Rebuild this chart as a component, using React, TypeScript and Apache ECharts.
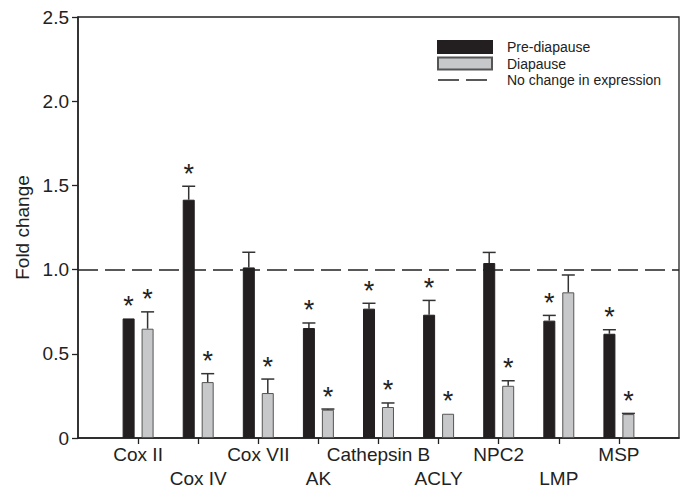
import React, { useEffect, useRef } from 'react';
import * as echarts from 'echarts';

// ---- data ----
const categories = ['Cox II', 'Cox IV', 'Cox VII', 'AK', 'Cathepsin B', 'ACLY', 'NPC2', 'LMP', 'MSP'];
const preDiapause = [0.71, 1.415, 1.013, 0.653, 0.768, 0.732, 1.039, 0.697, 0.619];
const preDiapauseSd = [0, 0.08, 0.09, 0.03, 0.032, 0.085, 0.063, 0.031, 0.024];
const preDiapauseSig = [1, 1, 0, 1, 1, 1, 0, 1, 1];
const diapause = [0.649, 0.332, 0.267, 0.168, 0.184, 0.144, 0.31, 0.865, 0.142];
const diapauseSd = [0.1, 0.05, 0.083, 0.004, 0.024, 0, 0.03, 0.103, 0.004];
const diapauseSig = [1, 1, 1, 1, 1, 1, 1, 0, 1];
const baseline = 1.0;
const yMin = 0;
const yMax = 2.5;
const yStep = 0.5;

const FONT = '"Liberation Sans", Arial, Helvetica, sans-serif';
const TEXT = '#222';

export default function App() {
  const ref = useRef<HTMLDivElement>(null);

  useEffect(() => {
    if (!ref.current) return;
    const chart = echarts.init(ref.current, null, { renderer: 'svg' });

    const axisCats = ['', ...categories, ' '];
    const pad = (a: number[]) => [null, ...a, null];
    const errData = (vals: number[], sds: number[], sig: number[]) =>
      vals.map((v, i) => [categories[i], v, sds[i], sig[i]]);

    const makeErr = (name: string, offset: number, data: any[]) => ({
      type: 'custom',
      name,
      data,
      z: 5,
      silent: true,
      encode: { x: 0, y: 1 },
      renderItem: (params: any, api: any) => {
        const idx = api.value(0);
        const v = api.value(1);
        const sd = api.value(2);
        const s = api.value(3);
        const top = api.coord([idx, v + sd]);
        const base = api.coord([idx, v]);
        const x = top[0] + offset;
        const children: any[] = [];
        if (sd > 0) {
          children.push({
            type: 'line',
            shape: { x1: x, y1: base[1], x2: x, y2: top[1] },
            style: { stroke: '#333', lineWidth: 1.5 },
          });
          children.push({
            type: 'line',
            shape: { x1: x - 6.5, y1: top[1], x2: x + 6.5, y2: top[1] },
            style: { stroke: '#333', lineWidth: 1.5 },
          });
        }
        if (s) {
          children.push({
            type: 'text',
            x,
            y: top[1] - 12.5,
            style: {
              text: '*',
              fontSize: 27,
              fontFamily: FONT,
              fill: TEXT,
              align: 'center',
              verticalAlign: 'middle',
            },
          });
        }
        return { type: 'group', children };
      },
    });

    chart.setOption({
      animation: false,
      backgroundColor: '#fff',
      grid: {
        left: 78,
        right: 6,
        top: 17,
        bottom: 50,
        containLabel: false,
        outerBoundsMode: 'none',
        show: true,
        borderColor: '#222',
        borderWidth: 1.3,
        backgroundColor: 'transparent',
      },
      legend: {
        data: [
          { name: 'Pre-diapause', icon: 'rect' },
          { name: 'Diapause', icon: 'rect' },
          {
            name: 'No change in expression',
            itemStyle: { opacity: 0, color: 'transparent', borderWidth: 0 },
            lineStyle: { color: '#222', width: 1.5, type: [21, 7] },
          },
        ],
        orient: 'vertical',
        left: 437,
        top: 40,
        itemWidth: 54,
        itemHeight: 12,
        itemGap: 2.5,
        padding: 0,
        selectedMode: false,
        textStyle: { fontSize: 14, fontFamily: FONT, color: TEXT, padding: [0, 0, 0, 10] },
      },
      xAxis: {
        type: 'category',
        data: axisCats,
        boundaryGap: false,
        axisLine: { lineStyle: { color: '#222', width: 1.5 } },
        axisTick: {
          show: true,
          length: 6,
          interval: (index: number, value: string) => value.trim() !== '',
          lineStyle: { color: '#222', width: 1.3 },
        },
        axisLabel: {
          interval: 0,
          hideOverlap: false,
          margin: 4,
          fontSize: 19,
          lineHeight: 24,
          fontFamily: FONT,
          color: TEXT,
          formatter: (value: string, index: number) => (index % 2 === 0 ? '\n' + value : value),
        },
        splitLine: { show: false },
      },
      yAxis: {
        type: 'value',
        min: yMin,
        max: yMax,
        interval: yStep,
        name: 'Fold change',
        nameLocation: 'middle',
        nameGap: 37,
        nameTextStyle: { fontSize: 19, fontFamily: FONT, color: TEXT },
        axisLine: { show: true, lineStyle: { color: '#222', width: 1.5 } },
        axisTick: { show: true, length: 6, lineStyle: { color: '#222', width: 1.3 } },
        axisLabel: {
          margin: 9,
          fontSize: 19,
          fontFamily: FONT,
          color: TEXT,
          formatter: (v: number) => (v === 0 ? '0' : v.toFixed(1)),
        },
        splitLine: { show: false },
      },
      series: [
        {
          type: 'line',
          name: 'No change in expression',
          data: [],
          symbol: 'none',
          z: 1,
          lineStyle: { color: '#222', width: 1.5, type: [21, 7] },
          itemStyle: { color: '#222' },
          markLine: {
            silent: true,
            symbol: 'none',
            label: { show: false },
            lineStyle: { color: '#222', width: 1.5, type: [20, 7] },
            data: [{ yAxis: baseline }],
          },
        },
        {
          type: 'bar',
          name: 'Pre-diapause',
          data: pad(preDiapause),
          barWidth: 12,
          barGap: '58%',
          z: 3,
          itemStyle: { color: '#231f20', borderColor: '#231f20', borderWidth: 1 },
        },
        {
          type: 'bar',
          name: 'Diapause',
          data: pad(diapause),
          barWidth: 12,
          barGap: '58%',
          z: 3,
          itemStyle: { color: '#c7c8ca', borderColor: '#555', borderWidth: 1 },
        },
        makeErr('pre-err', -9.5, errData(preDiapause, preDiapauseSd, preDiapauseSig)),
        makeErr('dia-err', 9.5, errData(diapause, diapauseSd, diapauseSig)),
      ],
    });

    return () => chart.dispose();
  }, []);

  return (
    <div
      ref={ref}
      style={{ position: 'absolute', left: 0, top: 0, width: 685, height: 488, background: '#fff' }}
    />
  );
}
